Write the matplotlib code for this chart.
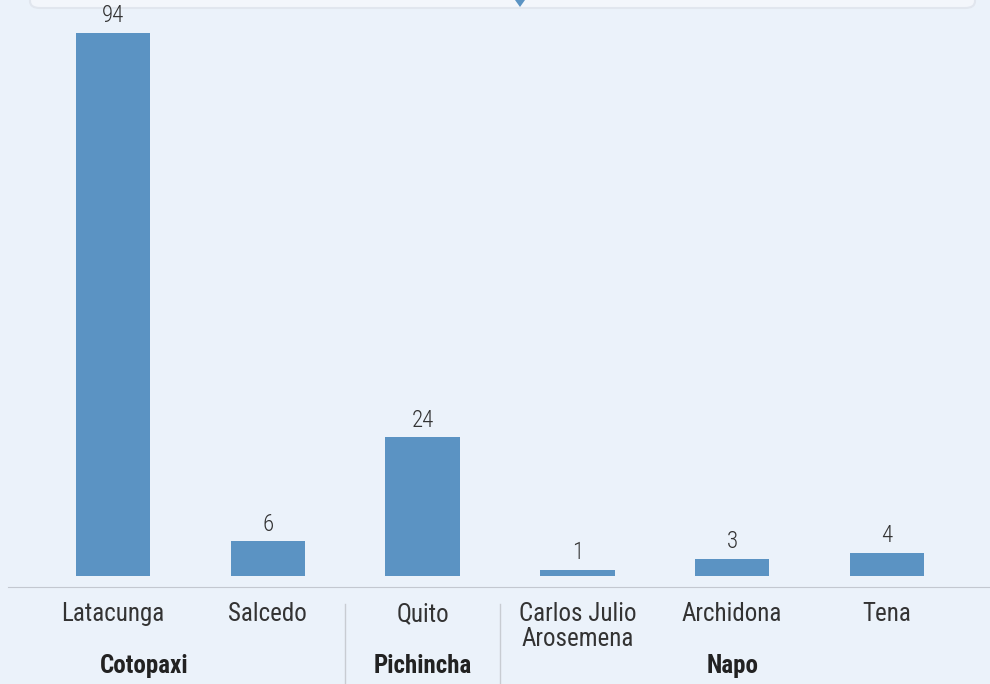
import matplotlib
matplotlib.use("Agg")
import matplotlib.pyplot as plt
from matplotlib.patches import FancyBboxPatch, Polygon

plt.rcParams['font.family'] = ['Roboto Condensed', 'Archivo Narrow', 'DejaVu Sans']

cantones = ["Latacunga", "Salcedo", "Quito", "Carlos Julio\nArosemena", "Archidona", "Tena"]
valores = [94, 6, 24, 1, 3, 4]
provincias = ["Cotopaxi", "Pichincha", "Napo"]
prov_pos = [0.2, 2, 4]
separadores = [1.5, 2.5]

bg = "#ebf2fa"
barcol = "#5b93c3"
txt = "#333333"

fig = plt.figure(figsize=(9.9, 6.84), dpi=100, facecolor=bg)

# franja superior (tooltip cortado)
band = FancyBboxPatch((30/990, 676/684), 945/990, 30/684,
                      boxstyle="round,pad=0,rounding_size=0.01",
                      transform=fig.transFigure, facecolor="#f3f6fb",
                      edgecolor="#e1e6ee", lw=1.5, zorder=0)
fig.patches.append(band)
tri = Polygon([(515/990, 684/684), (525/990, 684/684), (520/990, 677/684)],
              closed=True, transform=fig.transFigure, facecolor=barcol,
              edgecolor="none", zorder=1)
fig.patches.append(tri)

ax = fig.add_axes([8/990, 97/684, 982/990, 587/684], zorder=3)
ax.set_facecolor("none")

x = list(range(len(cantones)))
bars = ax.bar(x, valores, width=0.48, color=barcol, zorder=2)
for xi, v in zip(x, valores):
    ax.text(xi, v + 1.0, str(v), ha="center", va="bottom", fontsize=16.5,
            color=txt, fontweight="light")

ax.set_xlim(-0.677, 5.665)
ax.set_ylim(-1.9, 99.7)
for s in ["top", "right", "left"]:
    ax.spines[s].set_visible(False)
ax.spines["bottom"].set_position(("data", -1.9))
ax.spines["bottom"].set_color("#c3c8d0")
ax.set_yticks([])
ax.set_xticks(x)
ax.set_xticklabels(cantones, fontsize=18, color=txt, linespacing=1.05, va="top")
ax.tick_params(axis="x", length=0, pad=11)

# provincias
for p, xp in zip(provincias, prov_pos):
    ax.text(xp, -15.6, p, ha="center", va="center", fontsize=18, fontweight="bold",
            color="#222222", clip_on=False)
for xs in separadores:
    ax.plot([xs, xs], [-4.8, -20], color="#c8ccd2", lw=1, clip_on=False)

fig.savefig("out.png", dpi=100, facecolor=bg)
